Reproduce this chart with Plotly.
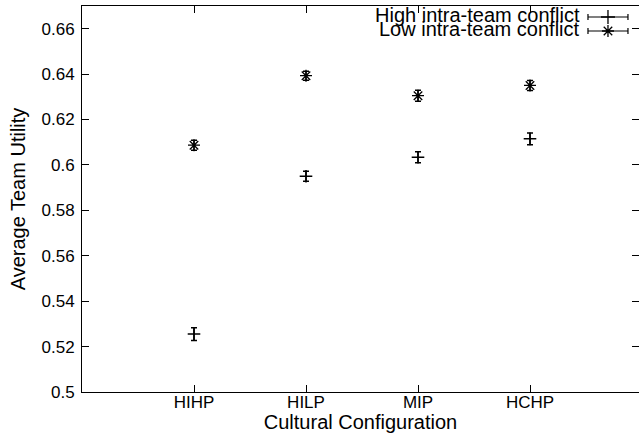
import plotly.graph_objects as go

categories = ["HIHP", "HILP", "MIP", "HCHP"]
high_conflict = [0.5255, 0.595, 0.6034, 0.6115]
high_err = [0.0028, 0.0022, 0.0024, 0.0026]
low_conflict = [0.6087, 0.6393, 0.6305, 0.635]
low_err = [0.0022, 0.0020, 0.0024, 0.0022]
series_names = ["High intra-team conflict", "Low intra-team conflict"]
y_ticks = [0.5, 0.52, 0.54, 0.56, 0.58, 0.6, 0.62, 0.64, 0.66]
y_tick_text = ["0.5", "0.52", "0.54", "0.56", "0.58", "0.6", "0.62", "0.64", "0.66"]

xpos = [i + 1 for i in range(len(categories))]
FONT = "Liberation Sans, Arial, sans-serif"

fig = go.Figure()

fig.add_trace(go.Scatter(
    x=xpos, y=high_conflict, mode="markers", name=series_names[0],
    marker=dict(symbol="cross-thin-open", size=9, color="black",
                line=dict(width=1.5, color="black")),
    error_y=dict(type="data", array=high_err, visible=True, color="black",
                 thickness=1.5, width=3),
    showlegend=False,
))
fig.add_trace(go.Scatter(
    x=xpos, y=low_conflict, mode="markers", name=series_names[1],
    marker=dict(symbol="asterisk-open", size=10, color="black",
                line=dict(width=1.3, color="black")),
    error_y=dict(type="data", array=low_err, visible=True, color="black",
                 thickness=1.5, width=3),
    showlegend=False,
))

# key samples (drawn on an overlay axis in fractions of the plot box)
key_x = 0.9443
key_half = 0.0359
key_y = [0.9715, 0.9352]
key_symbols = ["cross-thin-open", "asterisk-open"]
for ky, sym in zip(key_y, key_symbols):
    fig.add_trace(go.Scatter(
        x=[key_x], y=[ky], mode="markers", xaxis="x2", yaxis="y2",
        marker=dict(symbol=sym, size=10, color="black",
                    line=dict(width=1.3, color="black")),
        error_x=dict(type="constant", value=key_half, visible=True,
                     color="black", thickness=1.2, width=3),
        showlegend=False, hoverinfo="skip",
    ))

text_y = [0.9767, 0.9404]
for ty, nm in zip(text_y, series_names):
    fig.add_annotation(text=nm, xref="paper", yref="paper", x=0.8977, y=ty,
                       xanchor="right", yanchor="middle", showarrow=False,
                       font=dict(family=FONT, size=20, color="black"))

fig.update_layout(
    width=639, height=433,
    margin=dict(l=82, r=0, t=6, b=41),
    paper_bgcolor="white", plot_bgcolor="white",
    font=dict(family=FONT, color="black", size=17),
    xaxis=dict(
        range=[0, 557 / 112], tickmode="array", tickvals=xpos, ticktext=categories,
        ticks="inside", ticklen=7, tickcolor="black", tickwidth=1,
        showline=True, linecolor="black", linewidth=1, mirror="ticks",
        showgrid=False, zeroline=False, ticklabelstandoff=-5,
        title=dict(text="Cultural Configuration", font=dict(size=20), standoff=0),
        tickfont=dict(size=17),
    ),
    yaxis=dict(
        range=[0.5, 0.67], tickmode="array", tickvals=y_ticks, ticktext=y_tick_text,
        ticks="inside", ticklen=7, tickcolor="black", tickwidth=1,
        showline=True, linecolor="black", linewidth=1, mirror="ticks",
        showgrid=False, zeroline=False, ticklabelstandoff=3,
        title=dict(text="Average Team Utility", font=dict(size=20), standoff=10),
        tickfont=dict(size=17),
    ),
    xaxis2=dict(overlaying="x", range=[0, 1], visible=False, fixedrange=True),
    yaxis2=dict(overlaying="y", range=[0, 1], visible=False, fixedrange=True),
)

fig.write_html("out.html", config={"displayModeBar": False},
               post_script="document.body.style.margin='0px';document.body.style.overflow='hidden';")
